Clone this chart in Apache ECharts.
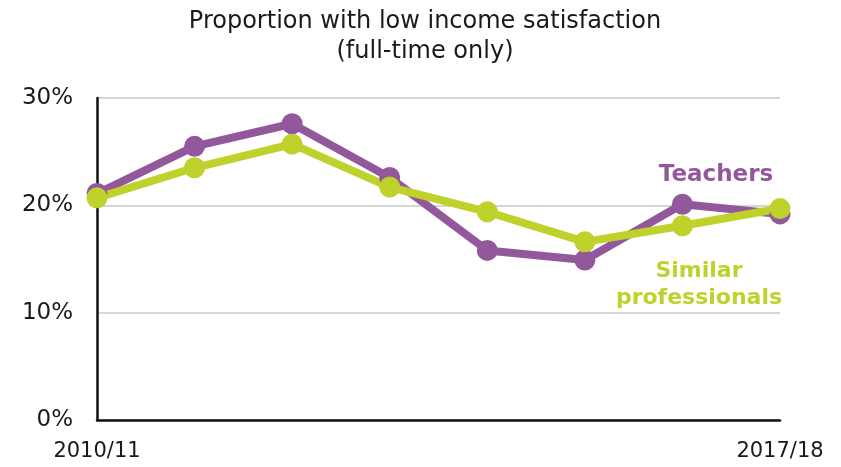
<!DOCTYPE html>
<html>
<head>
<meta charset="utf-8">
<script src="https://cdn.jsdelivr.net/npm/echarts@6/dist/echarts.min.js"></script>
<style>html,body{margin:0;padding:0;background:#fff}#c{width:841px;height:467px}</style>
</head>
<body>
<div id="c"></div>
<script>
const years = ['2010/11','2011/12','2012/13','2013/14','2014/15','2015/16','2016/17','2017/18'];
const teachers = [21.1, 25.5, 27.6, 22.6, 15.8, 14.9, 20.1, 19.2];
const similarProfessionals = [20.7, 23.5, 25.7, 21.7, 19.4, 16.6, 18.1, 19.7];
const yTicks = [0, 10, 20, 30];

const purple = '#93579c';
const green = '#bfd22c';
const font = 'DejaVu Sans';

const chart = echarts.init(document.getElementById('c'));
chart.setOption({
  animation: false,
  title: {
    text: 'Proportion with low income satisfaction\n(full-time only)',
    left: 420, top: 2, textAlign: 'center',
    textStyle: { fontFamily: font, fontSize: 24, fontWeight: 'normal', color: '#1a1a1a', lineHeight: 30 }
  },
  grid: { left: 97, right: 61, top: 98, bottom: 47 },
  xAxis: {
    type: 'category', data: years, boundaryGap: false,
    axisLine: { lineStyle: { color: '#111', width: 2.5 } },
    axisTick: { show: false },
    axisLabel: {
      fontFamily: font, fontSize: 21, color: '#1a1a1a', margin: 21,
      interval: (i) => i === 0 || i === years.length - 1
    },
    splitLine: { show: false }
  },
  yAxis: {
    type: 'value', min: yTicks[0], max: yTicks[yTicks.length - 1], interval: 10,
    axisLine: { show: true, lineStyle: { color: '#111', width: 2.5 } },
    axisTick: { show: false },
    axisLabel: { fontFamily: font, fontSize: 23, color: '#1a1a1a', margin: 24, formatter: '{value}%' },
    splitLine: { lineStyle: { color: '#d6d6d6', width: 2 } }
  },
  series: [
    {
      name: 'Teachers', type: 'line', data: teachers,
      symbol: 'circle', symbolSize: 21,
      lineStyle: { color: purple, width: 8 },
      itemStyle: { color: purple }
    },
    {
      name: 'Similar professionals', type: 'line', data: similarProfessionals,
      symbol: 'circle', symbolSize: 21,
      lineStyle: { color: green, width: 8 },
      itemStyle: { color: green }
    }
  ],
  graphic: [
    { type: 'text', x: 716, y: 175, style: { text: 'Teachers', fill: purple, font: 'bold 23px "DejaVu Sans"', align: 'center', verticalAlign: 'middle' } },
    { type: 'text', x: 699, y: 285, style: { text: 'Similar\nprofessionals', fill: green, font: 'bold 22px "DejaVu Sans"', align: 'center', verticalAlign: 'middle', lineHeight: 27 } }
  ]
});
</script>
</body>
</html>
